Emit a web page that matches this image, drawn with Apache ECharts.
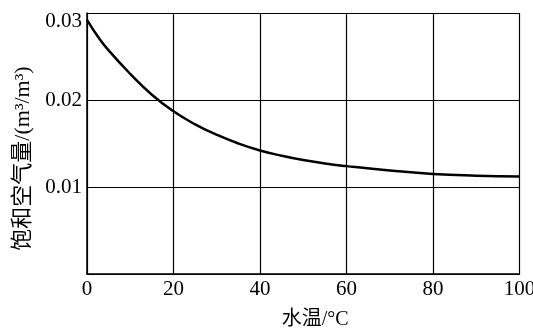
<!DOCTYPE html>
<html lang="zh">
<head>
    <meta charset="UTF-8">
    <title>饱和空气量</title>
    <style>
        html,
        body {
            margin: 0;
            padding: 0;
            width: 100%;
            height: 100%;
            background: #fff;
        }

        #canvas {
            width: 533px;
            height: 328px;
        }
    </style>
</head>
<body>
<div id="canvas"></div>
<script src="https://cdn.jsdelivr.net/npm/echarts@6.0.0/dist/echarts.min.js"></script>
<script>
    // 水温 (°C) and read-off saturated air amount (m3/m3)
    const waterTemp = [0, 2.5, 5, 10, 15, 20, 25, 30, 35, 40, 45, 50, 55, 60, 70, 80, 90, 100]
    const airAmount = [0.0292, 0.0273, 0.0257, 0.0230, 0.0206, 0.0187, 0.0172, 0.0160, 0.0150, 0.0142,
        0.0136, 0.0131, 0.0127, 0.0124, 0.0119, 0.0115, 0.0113, 0.0112]
    const xTicks = [0, 20, 40, 60, 80, 100]
    const yTicks = [0.01, 0.02, 0.03]

    const font = "'Liberation Serif', 'Times New Roman', 'Noto Sans CJK SC', serif"

    const chart = echarts.init(document.getElementById('canvas'))

    chart.setOption({
        animation: false,
        grid: {
            left: 87,
            right: 13.5,
            top: 13,
            bottom: 54,
            outerBoundsMode: 'none'
        },
        xAxis: {
            type: 'value',
            min: xTicks[0],
            max: xTicks[xTicks.length - 1],
            interval: 20,
            name: '水温/°C',
            nameLocation: 'middle',
            nameGap: 36,
            nameTextStyle: {
                fontFamily: font,
                fontSize: 20,
                color: '#000',
                padding: [0, 0, 0, 24]
            },
            axisLine: { lineStyle: { color: '#000', width: 1.5 } },
            axisTick: { show: false },
            axisLabel: {
                margin: 5,
                fontFamily: font,
                fontSize: 21,
                color: '#000'
            },
            splitLine: { show: true, lineStyle: { color: '#000', width: 1.2 } }
        },
        yAxis: {
            type: 'value',
            min: 0,
            max: yTicks[yTicks.length - 1],
            interval: 0.01,
            name: '饱和空气量/(m³/m³)',
            nameLocation: 'middle',
            nameGap: 50,
            nameTextStyle: {
                fontFamily: font,
                fontSize: 22,
                color: '#000',
                padding: [0, 30, 0, 0]
            },
            axisLine: { show: true, lineStyle: { color: '#000', width: 1.5 } },
            axisTick: { show: false },
            axisLabel: {
                margin: 5,
                fontFamily: font,
                fontSize: 21,
                color: '#000',
                formatter: v => {
                    if (v === 0) return ''
                    const s = v.toFixed(2)
                    return v >= 0.03 ? '{top|' + s + '}' : s
                },
                rich: {
                    top: {
                        fontFamily: font,
                        fontSize: 21,
                        color: '#000',
                        padding: [17, 0, 0, 0]
                    }
                }
            },
            splitLine: { show: true, lineStyle: { color: '#000', width: 1.2 } }
        },
        series: [{
            type: 'line',
            data: waterTemp.map((t, i) => [t, airAmount[i]]),
            smooth: 0.5,
            showSymbol: false,
            lineStyle: { color: '#000', width: 2.5 }
        }]
    })
</script>
</body>
</html>
